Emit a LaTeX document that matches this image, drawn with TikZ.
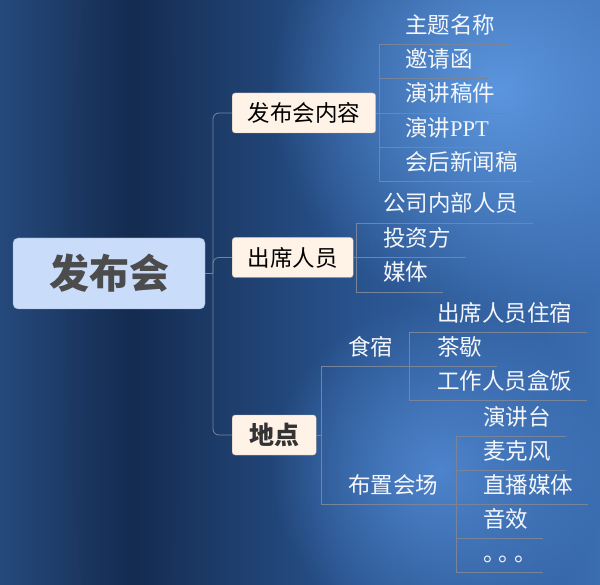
\documentclass[tikz,border=0pt]{standalone}
\usepackage{fontspec}
\setmainfont{Liberation Serif}
\newfontfamily\cjk{Noto Sans CJK SC}
\usetikzlibrary{calc,fadings}
\tikzfading[name=glow, inner color=transparent!0, outer color=transparent!100]
\definecolor{bgA}{HTML}{25497C}
\definecolor{bgB}{HTML}{152C51}
\definecolor{bgC}{HTML}{28528C}
\definecolor{bgD}{HTML}{3A6CB0}
\definecolor{glowA}{HTML}{5C96DE}
\definecolor{glowB}{HTML}{4E84CC}
\definecolor{linegray}{HTML}{77849A}
\definecolor{rootfill}{HTML}{C9DDFA}
\definecolor{rootdraw}{HTML}{8FA4C4}
\definecolor{topicfill}{HTML}{FFF3E8}
\definecolor{topicdraw}{HTML}{C9B59C}
\definecolor{leaftext}{HTML}{F4F6FA}
\pgfdeclarehorizontalshading{bgshade}{100bp}{color(0bp)=(bgA); color(25bp)=(bgA);
  color(36bp)=(bgB); color(54bp)=(bgC); color(75bp)=(bgD); color(100bp)=(bgD)}
\begin{document}
\begin{tikzpicture}[x = 1pt, y = -1pt,
    root/.style  = {draw = rootdraw, fill = rootfill, rounded corners = 5pt,
                    minimum width = 192pt, minimum height = 71pt, text = black!70,
                    font = \cjk\bfseries\fontsize{40}{40}\selectfont},
    topic/.style = {draw = topicdraw, fill = topicfill, rounded corners = 3pt,
                    anchor = west, inner xsep = 15.5pt, minimum height = 40pt,
                    font = \cjk\fontsize{22.5}{22.5}\selectfont},
    leaf/.style  = {anchor = base west, inner sep = 0pt, text = leaftext,
                    font = \cjk\fontsize{22.5}{22.5}\selectfont},
    branch/.style = {draw = linegray, line width = 0.8pt}]
  % background
  \useasboundingbox (0,0) rectangle (600,585);
  \shade[shading = bgshade] (0,0) rectangle (600,585);
  \fill[glowA, path fading = glow] (500,90) circle (230);
  \fill[glowB, path fading = glow] (440,470) circle (170);
  \fill[bgB, opacity = 0.2, path fading = glow] (125,300) ellipse (60 and 420);

  % main topics
  \node[root] (fbh) at (109,273.5) {发布会};
  \node[topic] (nr) at (232,113) {发布会内容};
  \node[topic] (cx) at (232,257.5) {出席人员};
  \node[topic, inner xsep = 17pt, text = black!80,
        font = \cjk\bfseries\fontsize{25}{25}\selectfont] (dd) at (232,435) {地点};

  \coordinate (trunk) at (213,273.5);
  \draw[branch, rounded corners = 6pt] (nr.west) -| (trunk) |- (dd.west);
  \draw[branch, rounded corners = 6pt] (cx.west) -| (trunk);
  \draw[branch] (fbh.east) -- (trunk);

  % 发布会内容
  \draw[branch] (nr.east) -- (379,113);
  \draw[branch] (379,44.3) -- (379,181.7);
  \foreach \t/\y [count=\i] in {主题名称/44.3, 邀请函/78.6, 演讲稿件/113,
                                演讲{\rmfamily PPT}/147.3, 会后新闻稿/181.7}
  {
    \node[leaf] (nr\i) at (405,\y-11) {\t};
    \draw[branch] (379,\y) -- ($(nr\i.base east)+(15,11)$);
  };

  % 出席人员
  \draw[branch] (cx.east) -- (356,257.5);
  \draw[branch] (356,223) -- (356,292);
  \foreach \t/\y [count=\i] in {公司内部人员/223, 投资方/257.5, 媒体/292}
  {
    \node[leaf] (cx\i) at (383,\y-11) {\t};
    \draw[branch] (356,\y) -- ($(cx\i.base east)+(15,11)$);
  };

  % 地点
  \draw[branch] (dd.east) -- (321,435);
  \draw[branch] (321,366.7) -- (321,504);
  \node[leaf] (ss) at (348,355.7) {食宿};
  \node[leaf] (bz) at (348,493) {布置会场};
  \draw[branch] (321,366.7) -- (409,366.7);
  \draw[branch] (321,504) -- (456,504);

  \draw[branch] (409,332.7) -- (409,400.7);
  \foreach \t/\y [count=\i] in {出席人员住宿/332.7, 茶歇/366.7, 工作人员盒饭/400.7}
  {
    \node[leaf] (ss\i) at (437,\y-11) {\t};
    \draw[branch] (409,\y) -- ($(ss\i.base east)+(15,11)$);
  };

  \draw[branch] (456,436) -- (456,572);
  \foreach \t/\y [count=\i] in {演讲台/436, 麦克风/470, 直播媒体/504, 音效/538,
                                {。\kern-7pt。\kern-7pt。\kern-9pt}/572}
  {
    \node[leaf] (bz\i) at (483,\y-11) {\t};
    \draw[branch] (456,\y) -- ($(bz\i.base east)+(15,11)$);
  };
\end{tikzpicture}
\end{document}
